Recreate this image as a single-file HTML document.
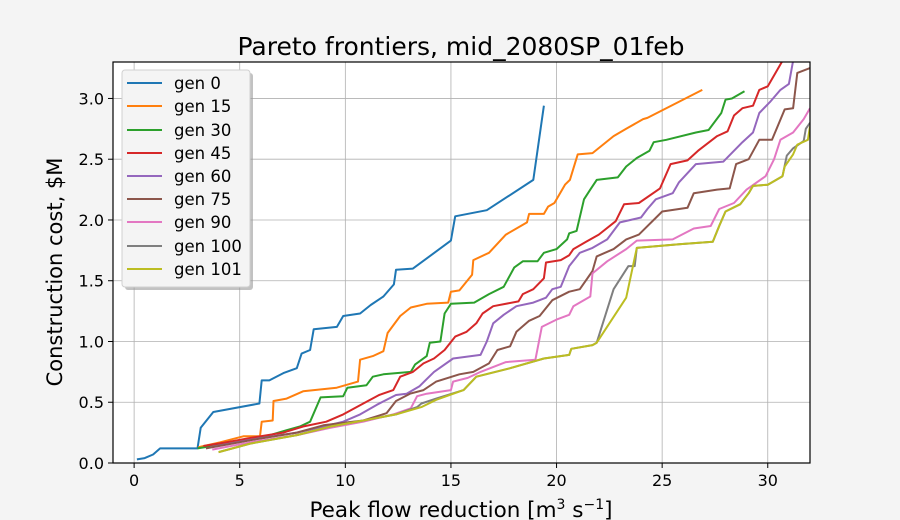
<!DOCTYPE html>
<html><head><meta charset="utf-8"><style>
html,body{margin:0;padding:0;background:#f4f4f4;}
svg{display:block;font-family:"DejaVu Sans","Liberation Sans",sans-serif;}
</style></head><body>
<svg id="chart" width="900" height="520" viewBox="0 0 900 520" xmlns="http://www.w3.org/2000/svg">
<rect x="0" y="0" width="900" height="520" fill="#f4f4f4"/>
<rect x="113" y="62" width="697" height="401" fill="#ffffff"/>
<defs><clipPath id="clip"><rect x="113" y="62" width="697" height="401"/></clipPath></defs>
<g id="grid"></g>
<g id="series" clip-path="url(#clip)"></g>
<rect x="113" y="62" width="697" height="401" fill="none" stroke="#000" stroke-width="1.2"/>
<g id="ticks"></g>
<text x="461" y="55" text-anchor="middle" font-size="25">Pareto frontiers, mid_2080SP_01feb</text>
<text x="461" y="517" text-anchor="middle" font-size="21.5">Peak flow reduction [m<tspan font-size="14" dy="-8">3</tspan><tspan dy="8"> s</tspan><tspan font-size="14" dy="-8">−1</tspan><tspan dy="8">]</tspan></text>
<text transform="translate(62,272) rotate(-90)" text-anchor="middle" font-size="21">Construction cost, $M</text>
<g id="legend"></g>
</svg>
<script>
const seriesNames = ["gen 0","gen 15","gen 30","gen 45","gen 60","gen 75","gen 90","gen 100","gen 101"];
const seriesColors = ["#1f77b4","#ff7f0e","#2ca02c","#d62728","#9467bd","#8c564b","#e377c2","#7f7f7f","#bcbd22"];
const xTicks = [0,5,10,15,20,25,30];
const yTicks = [0.0,0.5,1.0,1.5,2.0,2.5,3.0];
const gen0X = [0.13,0.5,0.9,1.23,3.0,3.15,3.75,5.93,6.04,6.4,7.07,7.7,7.93,8.33,8.5,9.6,9.9,10.7,11.2,11.8,12.3,12.4,13.2,15.0,15.2,16.7,18.9,19.4];
const gen0Y = [0.03,0.04,0.07,0.12,0.12,0.29,0.42,0.49,0.68,0.68,0.74,0.78,0.90,0.93,1.10,1.12,1.21,1.23,1.30,1.37,1.47,1.59,1.60,1.83,2.03,2.08,2.33,2.94];
const gen15X = [3.04,4.07,5.17,5.96,6.04,6.56,6.6,7.22,8.0,9.59,10.6,10.7,11.3,11.8,12.0,12.6,13.1,13.85,14.87,15.0,15.4,16.0,16.06,16.8,17.6,18.6,18.7,19.4,19.6,19.9,20.4,20.63,21.0,21.7,22.7,23.3,24.1,24.3,26.9];
const gen15Y = [0.13,0.17,0.22,0.22,0.34,0.35,0.51,0.53,0.59,0.62,0.67,0.85,0.88,0.92,1.07,1.21,1.28,1.31,1.32,1.41,1.42,1.55,1.67,1.73,1.88,1.98,2.05,2.05,2.11,2.14,2.29,2.33,2.54,2.55,2.69,2.75,2.83,2.84,3.07];
const gen30X = [3.0,5.49,6.44,7.22,7.85,8.33,8.83,9.9,10.1,11.0,11.3,11.8,13.1,13.3,13.85,14.0,14.5,14.7,15.0,16.1,16.8,17.5,18.0,18.4,19.1,19.4,20.0,20.5,20.6,20.95,21.3,21.6,21.9,22.9,23.3,23.8,24.4,24.6,25.2,26.6,27.2,27.8,28.0,28.3,28.9];
const gen30Y = [0.12,0.19,0.23,0.27,0.30,0.34,0.54,0.55,0.62,0.64,0.71,0.73,0.75,0.81,0.88,0.99,1.0,1.23,1.31,1.32,1.39,1.45,1.61,1.66,1.66,1.73,1.76,1.84,1.89,1.91,2.17,2.25,2.33,2.35,2.44,2.51,2.57,2.64,2.66,2.72,2.74,2.88,2.99,3.0,3.06];
const gen45X = [3.28,4.38,5.96,7.07,8.0,9.1,9.9,10.85,11.6,12.27,12.6,13.2,13.7,14.2,14.7,15.2,15.74,16.2,16.5,17.0,18.2,18.4,18.9,19.4,19.5,20.2,20.6,20.8,21.4,22.0,22.8,23.2,23.9,24.9,25.4,26.2,26.7,27.6,28.1,28.4,28.8,29.3,29.6,30.0,30.7];
const gen45Y = [0.14,0.17,0.22,0.25,0.30,0.34,0.40,0.49,0.56,0.60,0.71,0.75,0.82,0.86,0.93,1.04,1.08,1.15,1.23,1.29,1.33,1.39,1.43,1.52,1.65,1.67,1.71,1.76,1.82,1.88,1.99,2.13,2.14,2.26,2.46,2.49,2.57,2.69,2.73,2.86,2.92,2.94,3.07,3.10,3.31];
const gen60X = [3.6,5.49,7.7,8.96,9.9,10.7,11.5,12.4,12.9,13.5,14.2,15.1,16.4,16.7,17.0,17.5,18.1,18.9,19.5,19.8,20.2,20.6,21.1,21.7,22.4,23.0,24.0,24.3,24.7,25.5,25.8,26.6,27.9,28.8,29.3,29.6,30.1,30.6,31.0,31.2];
const gen60Y = [0.13,0.19,0.25,0.30,0.34,0.40,0.48,0.56,0.57,0.63,0.75,0.86,0.89,1.0,1.15,1.22,1.29,1.32,1.36,1.43,1.45,1.62,1.73,1.77,1.84,1.98,2.02,2.09,2.17,2.22,2.31,2.46,2.48,2.64,2.72,2.88,2.97,3.07,3.12,3.31];
const gen75X = [3.4,5.6,7.7,8.96,9.9,10.85,11.95,12.4,13.06,13.7,14.3,15.4,16.06,16.8,17.2,17.8,18.1,18.7,19.2,19.8,20.6,21.1,21.7,21.9,22.7,23.3,23.9,25.0,26.2,26.5,27.6,28.2,28.5,29.1,29.6,30.2,30.8,31.2,31.4,32.0];
const gen75Y = [0.12,0.19,0.25,0.31,0.33,0.35,0.41,0.51,0.57,0.60,0.67,0.73,0.75,0.82,0.93,0.96,1.08,1.17,1.21,1.34,1.41,1.43,1.58,1.70,1.76,1.84,1.88,2.07,2.10,2.22,2.25,2.26,2.46,2.50,2.66,2.66,2.91,2.92,3.21,3.25];
const gen90X = [3.7,5.49,7.7,9.3,10.85,12.27,13.1,13.4,13.85,15.0,15.1,15.8,16.4,17.6,19.0,19.3,20.0,20.6,20.8,21.6,21.7,22.4,23.3,23.8,25.5,26.5,27.3,27.7,28.4,29.0,29.9,30.3,30.6,31.2,31.7,32.0];
const gen90Y = [0.11,0.17,0.23,0.29,0.34,0.40,0.45,0.55,0.57,0.60,0.67,0.70,0.75,0.83,0.85,1.12,1.18,1.22,1.29,1.37,1.56,1.66,1.76,1.83,1.84,1.93,1.95,2.09,2.14,2.25,2.36,2.50,2.66,2.72,2.83,2.92];
const gen100X = [4.0,5.49,7.7,9.3,10.85,12.4,13.4,13.6,14.3,15.6,16.2,17.8,19.4,20.6,20.7,21.7,21.9,22.7,23.4,23.7,23.8,25.8,27.4,27.7,28.0,28.7,29.1,29.3,30.0,30.7,30.9,31.2,31.7,31.8,32.0];
const gen100Y = [0.09,0.16,0.23,0.30,0.35,0.40,0.46,0.49,0.53,0.60,0.71,0.78,0.86,0.89,0.94,0.97,0.99,1.43,1.62,1.62,1.77,1.80,1.82,1.95,2.07,2.13,2.22,2.28,2.29,2.36,2.53,2.59,2.65,2.75,2.80];
const gen101X = [4.0,5.49,7.7,9.3,10.85,12.4,13.6,14.3,15.6,16.2,17.8,19.4,20.6,20.7,21.7,21.9,23.3,23.8,25.8,27.4,27.7,28.0,28.7,29.1,29.3,30.0,30.7,30.8,31.2,31.4,31.9,32.0];
const gen101Y = [0.09,0.16,0.23,0.30,0.35,0.40,0.46,0.52,0.60,0.71,0.78,0.86,0.89,0.94,0.97,0.99,1.36,1.77,1.80,1.82,1.95,2.07,2.13,2.22,2.28,2.29,2.36,2.44,2.54,2.62,2.66,2.77];
const allX = [gen0X,gen15X,gen30X,gen45X,gen60X,gen75X,gen90X,gen100X,gen101X];
const allY = [gen0Y,gen15Y,gen30Y,gen45Y,gen60Y,gen75Y,gen90Y,gen100Y,gen101Y];

const L=113,R=810,T=62,B=463, XMIN=-1, XMAX=32, YMIN=0, YMAX=3.3;
function sx(v){return L+(v-XMIN)/(XMAX-XMIN)*(R-L);}
function sy(v){return B-(v-YMIN)/(YMAX-YMIN)*(B-T);}
const NS="http://www.w3.org/2000/svg";
function mk(tag,attrs,parent){const e=document.createElementNS(NS,tag);for(const k in attrs)e.setAttribute(k,attrs[k]);parent.appendChild(e);return e;}
const grid=document.getElementById('grid'), ticks=document.getElementById('ticks'), ser=document.getElementById('series'), leg=document.getElementById('legend');
xTicks.forEach(v=>{
  const g=mk('line',{x1:sx(v),x2:sx(v),y1:T,y2:B,stroke:'#b0b0b0','stroke-width':0.8},grid);
  
  
  const t=mk('line',{x1:sx(v),x2:sx(v),y1:B,y2:B+5,stroke:'#000','stroke-width':1},ticks);
  
  
  const lb=mk('text',{x:sx(v),y:B+23,'text-anchor':'middle','font-size':16},ticks);
  lb.textContent=String(v);
  
  
});
yTicks.forEach(v=>{
  const g=mk('line',{x1:L,x2:R,y1:sy(v),y2:sy(v),stroke:'#b0b0b0','stroke-width':0.8},grid);
  
  
  const t=mk('line',{x1:L-5,x2:L,y1:sy(v),y2:sy(v),stroke:'#000','stroke-width':1},ticks);
  
  
  const lb=mk('text',{x:L-9,y:sy(v)+6,'text-anchor':'end','font-size':16},ticks);
  lb.textContent=v.toFixed(1);
  
  
});
allX.forEach((xs,i)=>{
  const ys=allY[i];
  const pts=xs.map((x,j)=>sx(x).toFixed(1)+','+sy(ys[j]).toFixed(1)).join(' ');
  const p=mk('polyline',{points:pts,fill:'none',stroke:seriesColors[i],'stroke-width':2,'stroke-linejoin':'round'},ser);
  
  
});
mk('rect',{x:125,y:73,width:128,height:217,rx:3,fill:'#999','opacity':0.6},leg);
const box=mk('rect',{x:122,y:70,width:128,height:217,rx:3,fill:'#f4f4f4',stroke:'#d0d0d0'},leg);


const legY=[83,106,130,153,176,199,222,246,269];
seriesNames.forEach((n,i)=>{
  const g=mk('g',{},leg);
  
  
  mk('line',{x1:127,x2:162,y1:legY[i],y2:legY[i],stroke:seriesColors[i],'stroke-width':2},g);
  const t=mk('text',{x:174,y:legY[i]+6,'font-size':16.5},g);
  t.textContent=n;
});
</script>
</body></html>
